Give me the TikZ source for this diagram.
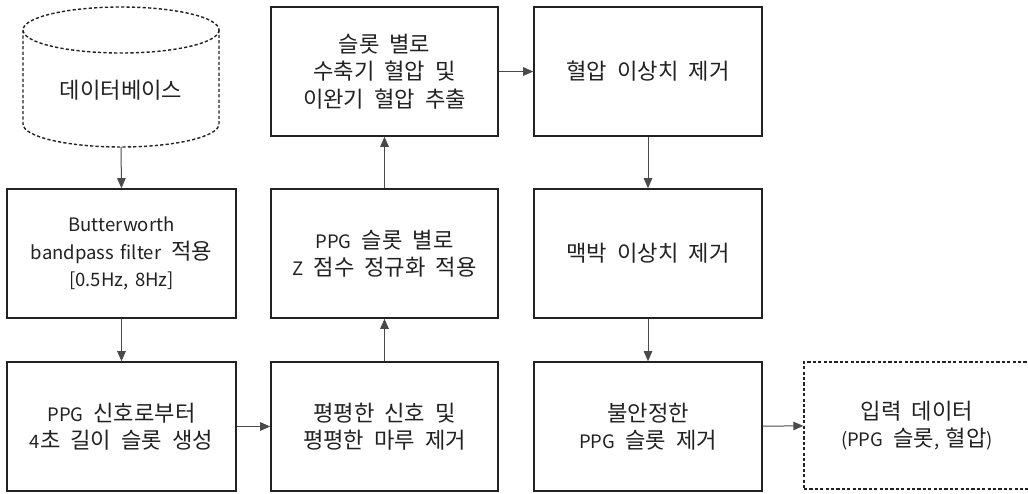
\documentclass[tikz,border=0pt]{standalone}
\usepackage{fontspec}
\setmainfont{Noto Sans CJK KR}
\newfontfamily\hgfont{Noto Sans CJK KR}[Scale=1.2]
\newcommand{\hg}[1]{{\hgfont\spaceskip=10pt\relax #1}}
\newcommand{\lblfont}{\fontsize{18.5pt}{27.5pt}\selectfont\spaceskip=6.5pt\relax}
\usetikzlibrary{arrows.meta}
\definecolor{ink}{HTML}{222222}
\definecolor{wire}{HTML}{4A4A4A}
\tikzset{
  labelfont/.style={text=ink, font=\lblfont},
  stepbox/.style={draw=ink, line width=1.6pt, rectangle, align=center,
    labelfont, inner sep=0pt},
  cellA/.style={stepbox, minimum width=229, minimum height=129},
  outbox/.style={stepbox, dash pattern=on 3.2pt off 2.2pt, line width=1.4pt,
    minimum width=226, minimum height=127},
  flow/.style={draw=wire, line width=1pt, -{Triangle[length=10pt,width=8.5pt]}},
  dbline/.style={draw=ink, line width=1.4pt, dash pattern=on 3.2pt off 2.2pt},
}
\begin{document}
\begin{tikzpicture}[x=1pt, y=-1pt]
  \clip (0,0) rectangle (1028,493);
  \fill[white] (0,0) rectangle (1028,493);

  % database cylinder
  \draw[dbline] (121,30) ellipse [x radius=98, y radius=23];
  \draw[dbline] (23,30) -- (23,124) arc [start angle=180, end angle=0, x radius=98, y radius=23] -- (219,30);
  \node[labelfont] (db) at (121,90) {\hg{데이터베이스}};
  \coordinate (dbbot) at (121,147);

  % left column
  \node[cellA] (bw)   at (121.5,253.5) {Butterworth\\bandpass filter\hg{ 적용}\\{}[0.5Hz, 8Hz]};
  \node[cellA] (seg)  at (121.5,426.5) {PPG\hg{ 신호로부터}\\4\hg{초 길이 슬롯 생성}};

  % middle column
  \node[cellA, minimum width=227] (flat) at (384.5,426.5) {\hg{평평한 신호 및}\\\hg{평평한 마루 제거}};
  \node[cellA, minimum width=227] (zsc)  at (384.5,253.5) {PPG\hg{ 슬롯 별로}\\Z\hg{ 점수 정규화 적용}};
  \node[cellA, minimum width=227] (bp)   at (384.5,71.5) {\hg{슬롯 별로}\\\hg{수축기 혈압 및}\\\hg{이완기 혈압 추출}};

  % right column
  \node[cellA, minimum width=228] (bpout) at (648,71.5)  {\hg{혈압 이상치 제거}};
  \node[cellA, minimum width=228] (pout)  at (648,253.5) {\hg{맥박 이상치 제거}};
  \node[cellA, minimum width=228] (unst)  at (648,426.5) {\hg{불안정한}\\PPG\hg{ 슬롯 제거}};

  % output data
  \node[outbox] (inp) at (917,425.5) {\hg{입력 데이터}\\(PPG\hg{ 슬롯}, \hg{혈압})};

  % connectors
  \draw[flow] (dbbot) -- (bw.north);
  \draw[flow] (bw) -- (seg);
  \draw[flow] (seg) -- (flat);
  \draw[flow] (flat) -- (zsc);
  \draw[flow] (zsc) -- (bp);
  \draw[flow] (bp) -- (bpout);
  \draw[flow] (bpout) -- (pout);
  \draw[flow] (pout) -- (unst);
  \draw[flow] (unst) -- (inp);
\end{tikzpicture}
\end{document}
